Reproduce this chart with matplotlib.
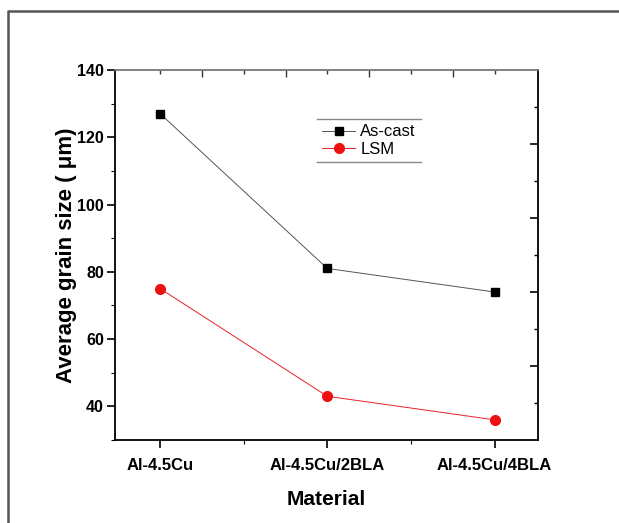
import numpy as np
import matplotlib.pyplot as plt
from matplotlib.lines import Line2D
from matplotlib.ticker import MultipleLocator

# Data
materials = ['Al-4.5Cu', 'Al-4.5Cu/2BLA', 'Al-4.5Cu/4BLA']
as_cast = [127, 81, 74]
lsm = [75, 43, 36]

plt.rcParams['font.family'] = ['Liberation Sans', 'DejaVu Sans']

fig = plt.figure(figsize=(6.19, 5.23), dpi=100)
ax = fig.add_axes([115 / 619, 1 - 440 / 523, 423 / 619, 370 / 523])

x = np.arange(len(materials))
ax.plot(x, as_cast, color='#555555', linewidth=0.7, marker='s', markersize=6,
        markerfacecolor='black', markeredgecolor='black', label='As-cast')
ax.plot(x, lsm, color='#e8202a', linewidth=0.7, marker='o', markersize=7,
        markerfacecolor='#ee1111', markeredgecolor='#ee1111', label='LSM')

ax.set_xlim(-0.27, 2.26)
ax.set_ylim(30, 140)
ax.set_xticks(x)
ax.set_xticklabels(materials, fontsize=12, fontweight='bold')
ax.xaxis.set_minor_locator(MultipleLocator(0.5))
ax.set_yticks([40, 60, 80, 100, 120, 140])
ax.yaxis.set_minor_locator(MultipleLocator(10))
for lab in ax.get_yticklabels():
    lab.set_fontsize(11.5)
    lab.set_fontweight('bold')

ax.tick_params(axis='both', which='major', direction='out', length=6, width=1.2, pad=2)
ax.tick_params(axis='both', which='minor', direction='out', length=3, width=0.8)
ax.tick_params(axis='x', which='major', pad=7)

# top and right axes with their own inward ticks
top = ax.secondary_xaxis('top')
top.set_xticks(np.arange(0.25, 2.1, 0.5))
top.set_xticks(np.arange(0, 2.1, 0.5), minor=True)
top.tick_params(which='major', direction='in', length=5, width=1, color='#333333', labeltop=False)
top.tick_params(which='minor', direction='in', length=3, width=1, color='#333333')
top.set_xticklabels([])

right = ax.secondary_yaxis('right')
right.set_yticks([118, 96, 74, 52])
right.set_yticks([129, 107, 85, 63, 41], minor=True)
right.tick_params(which='major', direction='in', length=6, width=1.2, labelright=False)
right.tick_params(which='minor', direction='in', length=3, width=1)
right.set_yticklabels([])

for s in ['left', 'bottom', 'right']:
    ax.spines[s].set_linewidth(1.3)
ax.spines['top'].set_color('#777777')
ax.spines['top'].set_linewidth(1.3)
top.spines['top'].set_visible(False)
right.spines['right'].set_visible(False)

ax.set_xlabel('Material', fontsize=15, fontweight='bold', labelpad=12)
ax.set_ylabel('Average grain size ( \u03bcm)', fontsize=16, fontweight='bold', labelpad=0)

leg = ax.legend(loc='upper left', bbox_to_anchor=(0.458, 0.889), fontsize=12,
                frameon=False, handlelength=2.0, handletextpad=0.3,
                borderpad=0.3, labelspacing=0.15)

# legend box: only top and bottom rules like the original
fig.canvas.draw()
bb = leg.get_window_extent().transformed(fig.transFigure.inverted())
for yy in (bb.y0, bb.y1):
    fig.add_artist(Line2D([bb.x0, bb.x1], [yy, yy], transform=fig.transFigure,
                          color='#888888', linewidth=1.0))

# outer frame (only left and top edges visible in the reference)
fig.add_artist(Line2D([7.5 / 619, 7.5 / 619, 1], [0, 1 - 10.5 / 523, 1 - 10.5 / 523],
                      transform=fig.transFigure, color='#555555', linewidth=1.8))

fig.savefig('out.png', dpi=100)
